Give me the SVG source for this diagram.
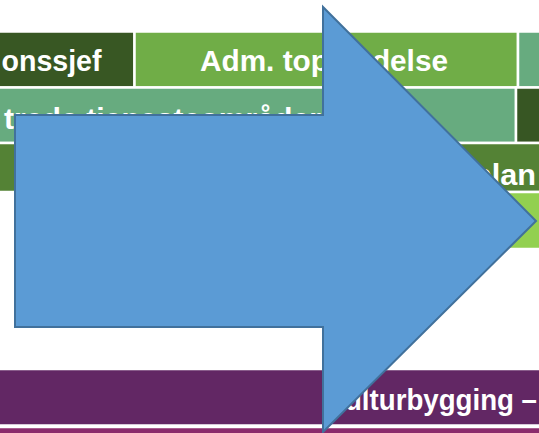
<svg xmlns="http://www.w3.org/2000/svg" width="539" height="433" viewBox="0 0 539 433">
<style>
.box{stroke:#ffffff;stroke-width:2.5}
.lbl{font-family:"Liberation Sans",Arial,sans-serif;font-weight:bold;font-size:30px;fill:#ffffff}
.arrow{fill:#5B9BD5;stroke:#41719C;stroke-width:2}
</style>
<rect width="539" height="433" fill="#ffffff"/>
<g id="row1-chief">
<rect class="box" x="-10" y="31.5" width="144.5" height="56" fill="#385723"/>
<text class="lbl" x="1.5" y="70.5" textLength="100" lengthAdjust="spacingAndGlyphs">onssjef</text>
</g>
<g id="row1-topmanagement">
<rect class="box" x="134.5" y="31.5" width="383.5" height="56" fill="#70AD47"/>
<text class="lbl" x="200" y="70.5" textLength="248" lengthAdjust="spacingAndGlyphs">Adm. toppledelse</text>
</g>
<g id="row1-right">
<rect class="box" x="518" y="31.5" width="30" height="56" fill="#67AB7F"/>
</g>
<g id="row2-services">
<rect class="box" x="-10" y="87.5" width="526" height="55.5" fill="#67AB7F"/>
<text class="lbl" x="4" y="128.5" textLength="317" lengthAdjust="spacingAndGlyphs">trede tjenesteområder</text>
</g>
<g id="row2-right">
<rect class="box" x="516" y="87.5" width="30" height="55.5" fill="#375623"/>
</g>
<g id="row3-plan">
<rect class="box" x="-10" y="143" width="560" height="49" fill="#548235"/>
<text class="lbl" x="473" y="185" textLength="63" lengthAdjust="spacingAndGlyphs">plan</text>
</g>
<g id="row4-light">
<rect class="box" x="330" y="192" width="220" height="57" fill="#92D050"/>
</g>
<g id="row5-culture">
<rect class="box" x="-10" y="369" width="560" height="56.5" fill="#622764"/>
<text class="lbl" x="325" y="410" textLength="212" lengthAdjust="spacingAndGlyphs">Kulturbygging –</text>
</g>
<g id="row6-strip">
<rect class="box" x="-10" y="427" width="560" height="20" fill="#8B2A6C"/>
</g>
<g id="connectors">
<polygon class="arrow" points="15,115 323,115 323,7 536,221 323,432 323,327 15,327"/>
</g>
</svg>
